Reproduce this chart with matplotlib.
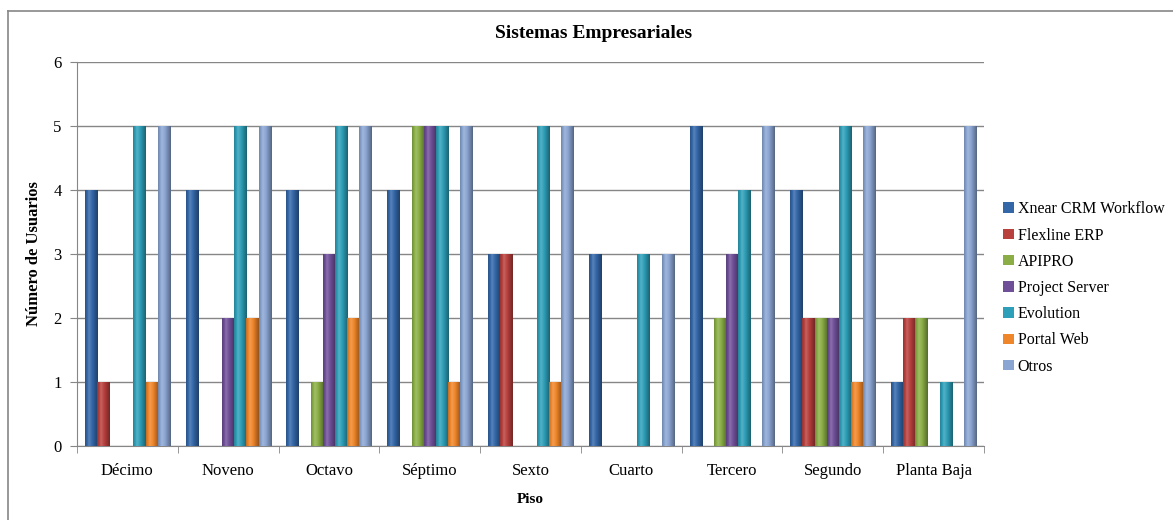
import matplotlib
matplotlib.use("Agg")
import matplotlib.pyplot as plt
import numpy as np
from matplotlib.colors import to_rgb
from matplotlib.lines import Line2D
from matplotlib.patches import Patch

plt.rcParams["font.family"] = ["Liberation Serif", "DejaVu Serif"]

pisos = ["Décimo", "Noveno", "Octavo", "Séptimo", "Sexto", "Cuarto",
         "Tercero", "Segundo", "Planta Baja"]
sistemas = ["Xnear CRM Workflow", "Flexline ERP", "APIPRO", "Project Server",
            "Evolution", "Portal Web", "Otros"]
xnear = [4, 4, 4, 4, 3, 3, 5, 4, 1]
flexline = [1, 0, 0, 0, 3, 0, 0, 2, 2]
apipro = [0, 0, 1, 5, 0, 0, 2, 2, 2]
project = [0, 2, 3, 5, 0, 0, 3, 2, 0]
evolution = [5, 5, 5, 5, 5, 3, 4, 5, 1]
portal = [1, 2, 2, 1, 1, 0, 0, 1, 0]
otros = [5, 5, 5, 5, 5, 3, 5, 5, 5]
series = [xnear, flexline, apipro, project, evolution, portal, otros]
colores = ["#3467A8", "#B8403D", "#8AAE45", "#6F4F98", "#2E9FB8", "#EF862A", "#8AA5D2"]

fig = plt.figure(figsize=(11.73, 5.2), dpi=100)
ax = fig.add_axes([77 / 1173, 74 / 520, 907 / 1173, 384 / 520])

# outer chart border (only top and left are visible)
fig.add_artist(Line2D([8 / 1173, 1.0], [1 - 11 / 520] * 2, color="#868686", lw=1.2))
fig.add_artist(Line2D([8 / 1173] * 2, [0.0, 1 - 11 / 520], color="#868686", lw=1.2))

x = np.arange(len(pisos))
w = 1 / 8.3
t = np.linspace(0, 1, 40)
shade = np.interp(t, [0, 0.3, 0.55, 1], [0.82, 1.12, 1.0, 0.62])

def gradient(color):
    c = np.array(to_rgb(color))
    rows = []
    for s in shade:
        if s > 1:
            rows.append(c + (1 - c) * (s - 1) * 1.6)
        else:
            rows.append(c * s)
    return np.clip(np.array(rows), 0, 1)[np.newaxis, :, :]

for i, (vals, col) in enumerate(zip(series, colores)):
    bars = ax.bar(x + (i - 3) * w, vals, w, color=col, edgecolor="none",
                  zorder=3, label=sistemas[i])
    img = gradient(col)
    for b in bars:
        h = b.get_height()
        if h <= 0:
            continue
        x0 = b.get_x()
        im = ax.imshow(img, extent=[x0, x0 + b.get_width(), 0, h], aspect="auto",
                       interpolation="bilinear", zorder=3.5)
        im.set_clip_path(b)

ax.set_xlim(-0.5, len(pisos) - 0.5)
ax.set_ylim(0, 6)
ax.set_yticks(range(7))
ax.set_xticks(x)
ax.set_xticklabels(pisos, fontsize=12)
ax.set_xticks(np.arange(-0.5, len(pisos), 1), minor=True)
ax.tick_params(axis="x", which="major", length=0, pad=12)
ax.tick_params(axis="x", which="minor", length=5, color="#868686")
ax.tick_params(axis="y", length=5, color="#868686", labelsize=12, pad=6)
ax.grid(axis="y", color="#868686", lw=1, zorder=0)
for s in ["top", "right"]:
    ax.spines[s].set_visible(False)
for s in ["left", "bottom"]:
    ax.spines[s].set_color("#868686")

ax.set_xlabel("Piso", fontsize=11, fontweight="bold", labelpad=10)
ax.set_ylabel("Número de Usuarios", fontsize=12, fontweight="bold", labelpad=8)
fig.text(594 / 1173, 1 - 33 / 520, "Sistemas Empresariales", ha="center", va="center",
         fontsize=14, fontweight="bold")

handles = [Patch(facecolor=c, edgecolor="none") for c in colores]
fig.legend(handles, sistemas, loc="center left", bbox_to_anchor=(989 / 1173, 1 - 288 / 520),
           frameon=False, fontsize=11.5, handlelength=0.65, handleheight=0.65,
           handletextpad=0.25, labelspacing=0.64)

fig.savefig("out.png", dpi=100)
